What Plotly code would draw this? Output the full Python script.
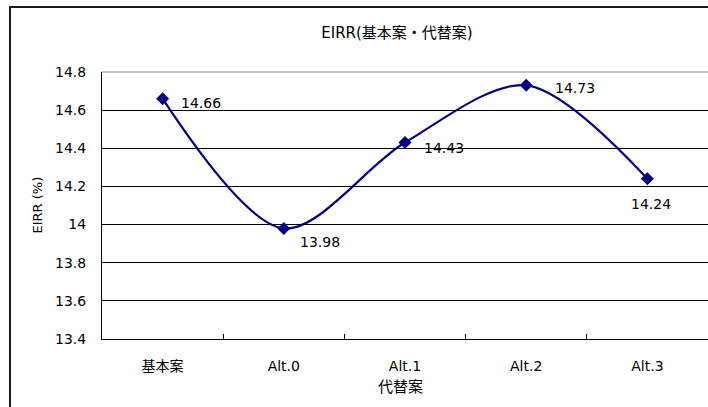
import plotly.graph_objects as go

# EIRR for the base case and the alternatives
categories = ["基本案", "Alt.0", "Alt.1", "Alt.2", "Alt.3"]
eirr = [14.66, 13.98, 14.43, 14.73, 14.24]

# per-point label placement (pixels): x offset, y offset, anchor
label_dx = [16, 14, 17, 27, 4]
label_dy = [-4, -14, -5, -3, -25]
label_anchor = ["left", "left", "left", "left", "center"]

FONT = "DejaVu Sans, Noto Sans CJK JP, sans-serif"
NAVY = "#000080"
FS = 14

W, H = 708, 407
L, R, T, B = 102, 0, 72, 68

fig = go.Figure()
fig.add_trace(go.Scatter(
    x=categories, y=eirr, mode="lines+markers",
    line=dict(color=NAVY, width=2.2, shape="spline", smoothing=0.9),
    marker=dict(symbol="diamond", size=10, color=NAVY),
    showlegend=False, hoverinfo="skip",
))

annotations = []
for c, v, dx, dy, anc in zip(categories, eirr, label_dx, label_dy, label_anchor):
    annotations.append(dict(
        x=c, y=v, xref="x", yref="y", text=f"{v:.2f}", showarrow=False,
        xanchor=anc, yanchor="middle", xshift=dx, yshift=dy,
        font=dict(family=FONT, size=FS, color="#000"),
    ))

pw = W - L - R
ph = H - T - B

# axis titles
annotations.append(dict(
    x=(400 - L) / pw, y=-(387 - (H - B)) / ph,
    xref="paper", yref="paper", text="代替案", showarrow=False,
    xanchor="center", yanchor="middle",
    font=dict(family=FONT, size=15, color="#000"),
))
annotations.append(dict(
    x=-(L - 37) / pw, y=0.5, xref="paper", yref="paper",
    text="EIRR (%)", textangle=-90, showarrow=False,
    xanchor="center", yanchor="middle",
    font=dict(family=FONT, size=13, color="#000"),
))

shapes = [
    # outer chart border
    dict(type="rect", xref="paper", yref="paper",
         x0=-(L - 10) / pw, x1=1.05, y0=-(H + 10 - (H - B)) / ph, y1=1 + (T - 7) / ph,
         line=dict(color="#1a1a1a", width=2), layer="above"),
    # plot area top edge
    dict(type="line", xref="paper", yref="paper", x0=0, x1=1, y0=1, y1=1,
         line=dict(color="#8a8a8a", width=1), layer="between"),
]

fig.update_layout(
    width=W, height=H,
    margin=dict(l=L, r=R, t=T, b=B, pad=0),
    paper_bgcolor="white", plot_bgcolor="white",
    title=dict(text="EIRR(基本案・代替案)", x=397 / W, xanchor="center",
               y=1 - 33 / H, yanchor="middle",
               font=dict(family=FONT, size=15, color="#000")),
    xaxis=dict(
        type="category", range=[-0.5, 4.5],
        showgrid=False, showline=True, linecolor="#000", linewidth=1,
        ticks="inside", tickson="boundaries", ticklen=5, tickcolor="#000",
        tickfont=dict(family=FONT, size=FS, color="#000"),
        ticklabelstandoff=14, fixedrange=True,
    ),
    yaxis=dict(
        range=[13.4, 14.8], dtick=0.2, tick0=13.4,
        showgrid=True, gridcolor="#000", gridwidth=1,
        showline=True, linecolor="#000", linewidth=1,
        ticks="", zeroline=False,
        tickfont=dict(family=FONT, size=FS, color="#000"),
        ticklabelstandoff=12, fixedrange=True,
    ),
    annotations=annotations,
    shapes=shapes,
)

fig.write_html("out.html")
